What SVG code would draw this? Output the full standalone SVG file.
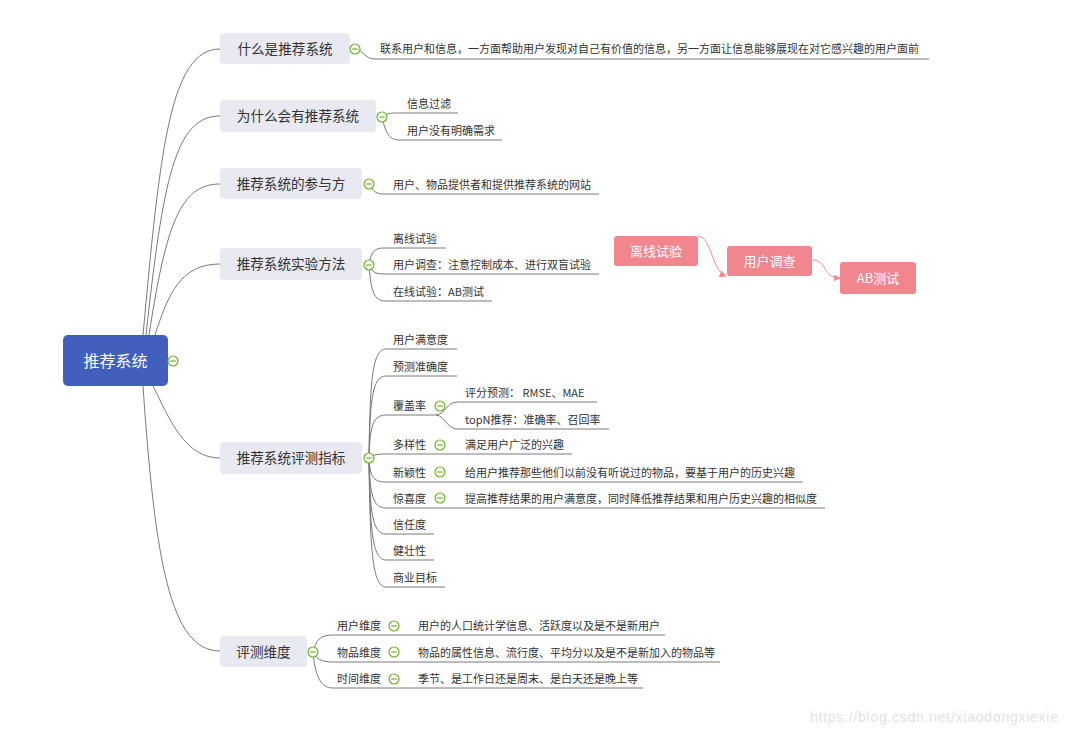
<svg xmlns="http://www.w3.org/2000/svg" width="1071" height="736" viewBox="0 0 1071 736">
<defs>
<style>
.t{font-family:"Noto Sans CJK SC","Microsoft YaHei",sans-serif;fill:#333;}
.leaf{font-size:11px;}
.br{font-size:13.6px;text-anchor:middle;}
.brbox{fill:#e9e9f2;}
.ln{fill:none;stroke:#7a7a7a;stroke-width:1;}
.pk{fill:none;stroke:#f28a94;stroke-width:1;}
.pkbox{fill:#f1868f;}
.pkt{font-family:"Noto Sans CJK SC",sans-serif;font-size:13px;fill:#fff;text-anchor:middle;}
.cc{fill:#fff;stroke:#6cb22c;stroke-width:1.2;}
.cm{stroke:#6cb22c;stroke-width:1.2;}
</style>
<marker id="ah" viewBox="0 0 10 10" refX="9" refY="5" markerWidth="7" markerHeight="7" orient="auto" markerUnits="userSpaceOnUse">
<path d="M0,0 L10,5 L0,10 z" fill="#f28a94"/>
</marker>
<g id="col"><circle class="cc" cx="0" cy="0" r="5"/><line class="cm" x1="-2.8" y1="0" x2="2.8" y2="0"/></g>
</defs>
<rect width="1071" height="736" fill="#fff"/>

<g id="connectors">
<path class="ln" d="M143,335 C160,150 170,49 220,49"/>
<path class="ln" d="M146,335 C163,180 175,116 220,116"/>
<path class="ln" d="M149,335 C166,225 180,184 220,184"/>
<path class="ln" d="M155,335 C168,295 180,264 220,264"/>
<path class="ln" d="M153,386 C170,420 185,458 220,458"/>
<path class="ln" d="M143,386 C155,560 170,651 220,651"/>

<path class="ln" d="M355,49 C364,50 364,59 375,59 L929,59"/>
<path class="ln" d="M382,117 C388,113 390,113 397,113 L458,113"/>
<path class="ln" d="M382,117 C386,135 390,140 400,140 L502,140"/>
<path class="ln" d="M369,184 C374,192 376,194 384,194 L599,194"/>
<path class="ln" d="M369,265 C371,252 374,248 384,248 L446,248"/>
<path class="ln" d="M369,265 C372,272 375,274 384,274 L599,274"/>
<path class="ln" d="M369,265 C371,292 374,301 386,301 L492,301"/>

<path class="ln" d="M369,458 C370,382 372,349 386,349 L457,349"/>
<path class="ln" d="M369,458 C370,401 372,376 386,376 L457,376"/>
<path class="ln" d="M369,458 C370,428 372,415 386,415 L436,415"/>
<path class="ln" d="M436,415 C446,414 446,402 458,402 L597,402"/>
<path class="ln" d="M436,415 C446,416 446,429 458,429 L609,429"/>
<path class="ln" d="M369,458 C372,456 374,454 386,454 L572,454"/>
<path class="ln" d="M369,458 C370,475 372,482 386,482 L803,482"/>
<path class="ln" d="M369,458 C370,493 372,508 386,508 L825,508"/>
<path class="ln" d="M369,458 C370,511 372,534 386,534 L434,534"/>
<path class="ln" d="M369,458 C370,529 372,560 386,560 L434,560"/>
<path class="ln" d="M369,458 C370,548 372,587 386,587 L445,587"/>

<path class="ln" d="M313,652 C316,640 320,635 333,635 L665,635"/>
<path class="ln" d="M313,652 C316,658 320,662 333,662 L720,662"/>
<path class="ln" d="M313,652 C315,675 320,688 333,688 L643,688"/>

<path class="pk" d="M698,236 C711,236 712,271 726,276" marker-end="url(#ah)"/>
<path class="pk" d="M812,260 C828,260 822,278 840,278" marker-end="url(#ah)"/>
</g>

<g id="root">
<rect x="63" y="335" width="105" height="51" rx="5" fill="#4160bd"/>
<text x="115.5" y="366.5" font-family="Noto Sans CJK SC,sans-serif" font-size="16" fill="#fff" text-anchor="middle">推荐系统</text>
<use href="#col" x="173" y="361"/>
</g>

<g id="n1">
<rect class="brbox" x="220" y="33" width="130" height="31" rx="4"/>
<text class="t br" x="285" y="53.5">什么是推荐系统</text>
<use href="#col" x="355" y="49"/>
<text class="t leaf" x="380" y="53">联系用户和信息，一方面帮助用户发现对自己有价值的信息，另一方面让信息能够展现在对它感兴趣的用户面前</text>
</g>

<g id="n2">
<rect class="brbox" x="220" y="100" width="156" height="32" rx="4"/>
<text class="t br" x="298" y="121">为什么会有推荐系统</text>
<use href="#col" x="382" y="117"/>
<text class="t leaf" x="407" y="107.5">信息过滤</text>
<text class="t leaf" x="407" y="134.5">用户没有明确需求</text>
</g>

<g id="n3">
<rect class="brbox" x="220" y="168" width="142" height="31" rx="4"/>
<text class="t br" x="291" y="188.5">推荐系统的参与方</text>
<use href="#col" x="369" y="184"/>
<text class="t leaf" x="393" y="188.5">用户、物品提供者和提供推荐系统的网站</text>
</g>

<g id="n4">
<rect class="brbox" x="220" y="248" width="142" height="32" rx="4"/>
<text class="t br" x="291" y="269">推荐系统实验方法</text>
<use href="#col" x="369" y="265"/>
<text class="t leaf" x="393" y="242.5">离线试验</text>
<text class="t leaf" x="393" y="268.5">用户调查：注意控制成本、进行双盲试验</text>
<text class="t leaf" x="393" y="295.5">在线试验：AB测试</text>
</g>

<g id="flow1">
<rect class="pkbox" x="614" y="236" width="84" height="30" rx="3"/>
<text class="pkt" x="656" y="255.5">离线试验</text>
</g>
<g id="flow2">
<rect class="pkbox" x="727" y="246" width="85" height="30" rx="3"/>
<text class="pkt" x="769.5" y="265.5">用户调查</text>
</g>
<g id="flow3">
<rect class="pkbox" x="840" y="262" width="76" height="32" rx="3"/>
<text class="pkt" x="878" y="282.5">AB测试</text>
</g>

<g id="n5">
<rect class="brbox" x="220" y="442" width="142" height="32" rx="4"/>
<text class="t br" x="291" y="463">推荐系统评测指标</text>
<use href="#col" x="369" y="458"/>
<text class="t leaf" x="393" y="343.5">用户满意度</text>
<text class="t leaf" x="393" y="370.5">预测准确度</text>
<text class="t leaf" x="393" y="409.5">覆盖率</text>
<use href="#col" x="440" y="406"/>
<text class="t leaf" x="465" y="396.5">评分预测： RMSE、MAE</text>
<text class="t leaf" x="465" y="423.5">topN推荐：准确率、召回率</text>
<text class="t leaf" x="393" y="448.5">多样性</text>
<use href="#col" x="440" y="445"/>
<text class="t leaf" x="465" y="448.5">满足用户广泛的兴趣</text>
<text class="t leaf" x="393" y="476.5">新颖性</text>
<use href="#col" x="440" y="472"/>
<text class="t leaf" x="465" y="476.5">给用户推荐那些他们以前没有听说过的物品，要基于用户的历史兴趣</text>
<text class="t leaf" x="393" y="502.5">惊喜度</text>
<use href="#col" x="440" y="498"/>
<text class="t leaf" x="465" y="502.5">提高推荐结果的用户满意度，同时降低推荐结果和用户历史兴趣的相似度</text>
<text class="t leaf" x="393" y="528.5">信任度</text>
<text class="t leaf" x="393" y="554.5">健壮性</text>
<text class="t leaf" x="393" y="581.5">商业目标</text>
</g>

<g id="n6">
<rect class="brbox" x="220" y="636" width="87" height="31" rx="4"/>
<text class="t br" x="263.5" y="656.5">评测维度</text>
<use href="#col" x="313" y="652"/>
<text class="t leaf" x="337" y="629.5">用户维度</text>
<use href="#col" x="394" y="626"/>
<text class="t leaf" x="418" y="629.5">用户的人口统计学信息、活跃度以及是不是新用户</text>
<text class="t leaf" x="337" y="656.5">物品维度</text>
<use href="#col" x="394" y="652"/>
<text class="t leaf" x="418" y="656.5">物品的属性信息、流行度、平均分以及是不是新加入的物品等</text>
<text class="t leaf" x="337" y="682.5">时间维度</text>
<use href="#col" x="394" y="679"/>
<text class="t leaf" x="418" y="682.5">季节、是工作日还是周末、是白天还是晚上等</text>
</g>

<text x="810" y="722" font-family="Liberation Sans,sans-serif" font-size="14" fill="#e2e2e2" textLength="248">https://blog.csdn.net/xiaodongxiexie</text>
</svg>
